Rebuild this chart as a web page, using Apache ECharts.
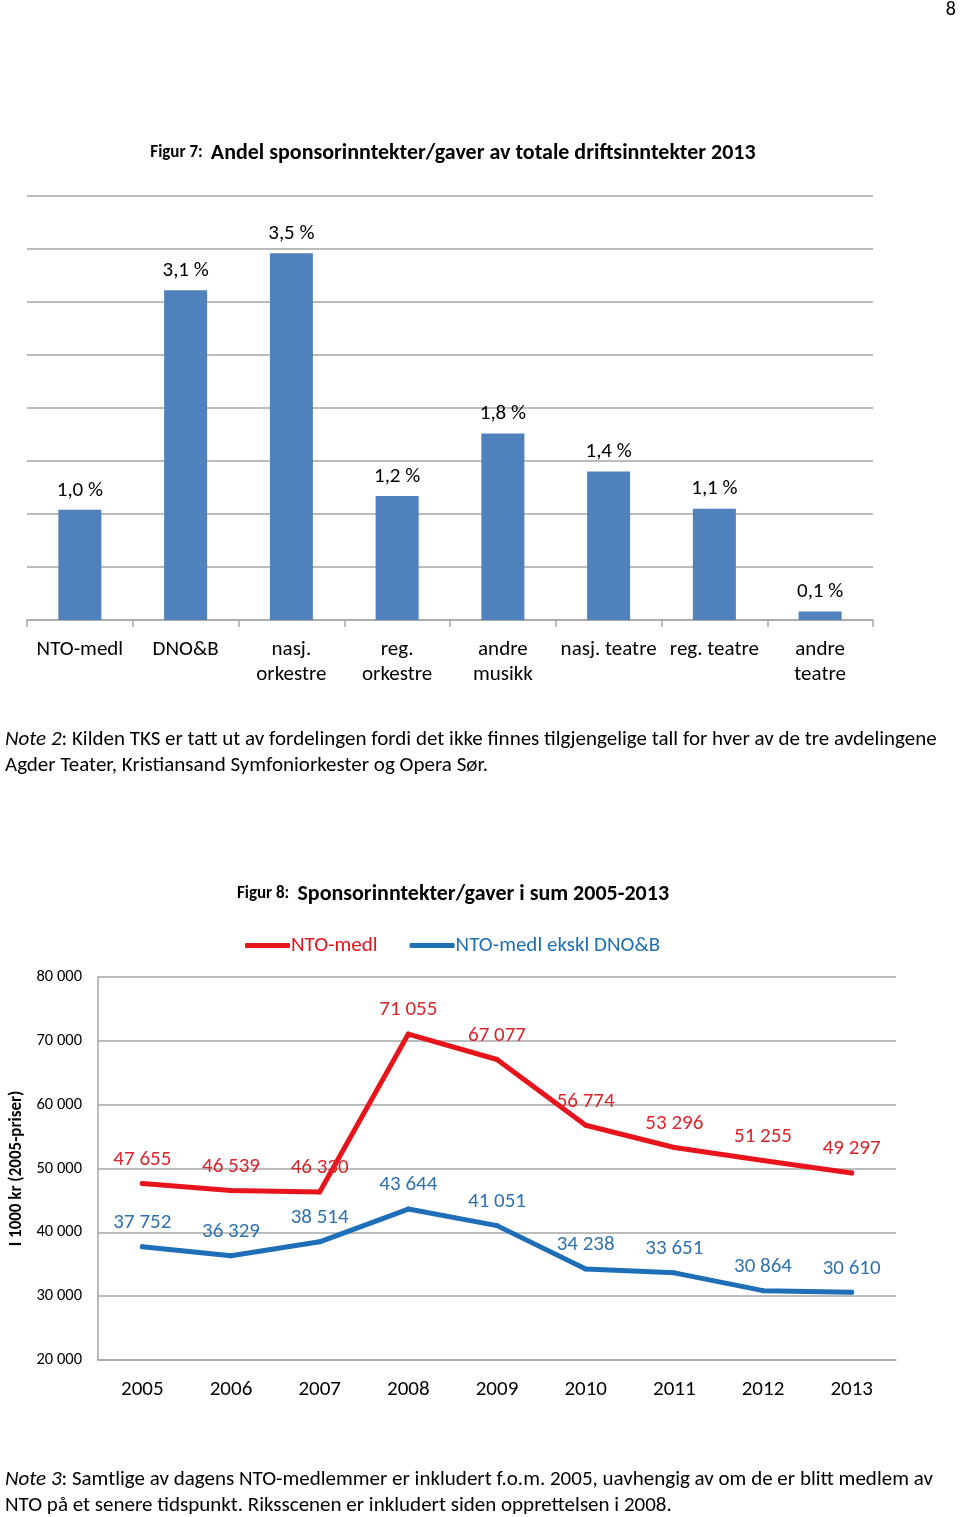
<!DOCTYPE html>
<html>
<head>
<meta charset="utf-8">
<script src="https://cdn.jsdelivr.net/npm/echarts@6/dist/echarts.min.js"></script>
<style>
html,body{margin:0;padding:0;background:#fff;}
#c{width:960px;height:1517px;}
</style>
</head>
<body>
<div id="c"></div>
<script>
// Figure 7 data
const barCategories = ['NTO-medl', 'DNO&B', 'nasj.\norkestre', 'reg.\norkestre', 'andre\nmusikk', 'nasj. teatre', 'reg. teatre', 'andre\nteatre'];
const barValues = [1.04, 3.11, 3.46, 1.17, 1.76, 1.40, 1.05, 0.08];

// Figure 8 data
const years = ['2005', '2006', '2007', '2008', '2009', '2010', '2011', '2012', '2013'];
const ntoMedl = [47655, 46539, 46330, 71055, 67077, 56774, 53296, 51255, 49297];
const ntoEkskl = [37752, 36329, 38514, 43644, 41051, 34238, 33651, 30864, 30610];

const FONT = "'Liberation Sans Narrow', Carlito, Lato, sans-serif";
const fmtThousands = v => String(Math.round(v)).replace(/\B(?=(\d{3})+(?!\d))/g, ' ');

const chart = echarts.init(document.getElementById('c'), null, {renderer: 'canvas'});
chart.setOption({
  animation: false,
  textStyle: {fontFamily: FONT},
  title: [
    {
      text: '{s|Figur 7:}  {b|Andel sponsorinntekter/gaver av totale driftsinntekter 2013}',
      left: 448, top: 137, textAlign: 'center',
      textStyle: {rich: {
        s: {fontFamily: FONT, fontSize: 17, fontWeight: 'bold', color: '#000'},
        b: {fontFamily: FONT, fontSize: 22, fontWeight: 'bold', color: '#000'}
      }}
    },
    {
      text: '{s|Figur 8:}  {b|Sponsorinntekter/gaver i sum 2005-2013}',
      left: 448, top: 878, textAlign: 'center',
      textStyle: {rich: {
        s: {fontFamily: FONT, fontSize: 17, fontWeight: 'bold', color: '#000'},
        b: {fontFamily: FONT, fontSize: 22, fontWeight: 'bold', color: '#000'}
      }}
    }
  ],
  legend: {
    top: 930, left: 240,
    orient: 'horizontal',
    itemWidth: 45, itemHeight: 5, itemGap: 32,
    icon: 'roundRect',
    textStyle: {fontFamily: FONT, fontSize: 21, padding: [0,0,0,-4]},
    data: [
      {name: 'NTO-medl', textStyle: {color: '#e8141b'}},
      {name: 'NTO-medl ekskl DNO&B', textStyle: {color: '#1f6fb8'}}
    ]
  },
  grid: [
    {left: 27, right: 87, top: 196, bottom: 897, containLabel: false, outerBoundsMode: 'none'},
    {left: 98, right: 64, top: 977, bottom: 157, containLabel: false, outerBoundsMode: 'none'}
  ],
  xAxis: [
    {
      gridIndex: 0, type: 'category', data: barCategories,
      axisLine: {lineStyle: {color: '#a6a6a6', width: 1.5}},
      axisTick: {show: true, alignWithLabel: false, length: 7, lineStyle: {color: '#a6a6a6', width: 1.5}},
      axisLabel: {interval: 0, color: '#000', fontSize: 21, lineHeight: 25, margin: 17, fontFamily: FONT}
    },
    {
      gridIndex: 1, type: 'category', data: years,
      axisLine: {lineStyle: {color: '#a6a6a6', width: 1.5}},
      axisTick: {show: false},
      axisLabel: {interval: 0, color: '#000', fontSize: 21, margin: 19, fontFamily: FONT}
    }
  ],
  yAxis: [
    {
      gridIndex: 0, type: 'value', min: 0, max: 4, interval: 0.5,
      axisLabel: {show: false}, axisLine: {show: false}, axisTick: {show: false},
      splitLine: {lineStyle: {color: '#a6a6a6', width: 1.5}}
    },
    {
      gridIndex: 1, type: 'value', min: 20000, max: 80000, interval: 10000,
      name: 'I 1000 kr (2005-priser)', nameLocation: 'middle', nameRotate: 90, nameGap: 70,
      nameTextStyle: {fontFamily: FONT, fontSize: 17, fontWeight: 'bold', color: '#000'},
      axisLine: {show: true, lineStyle: {color: '#a6a6a6', width: 1.5}},
      axisTick: {show: false},
      axisLabel: {color: '#000', fontSize: 16.5, margin: 16, fontFamily: FONT, formatter: fmtThousands},
      splitLine: {lineStyle: {color: '#a6a6a6', width: 1.5}}
    }
  ],
  series: [
    {
      type: 'bar', xAxisIndex: 0, yAxisIndex: 0, data: barValues,
      barWidth: 43,
      itemStyle: {color: '#4f81bd'},
      label: {show: true, position: 'top', distance: 9, color: '#000', fontSize: 21, fontFamily: FONT,
        formatter: p => p.value.toFixed(1).replace('.', ',') + ' %'}
    },
    {
      name: 'NTO-medl', type: 'line', xAxisIndex: 1, yAxisIndex: 1, data: ntoMedl,
      symbol: 'circle', symbolSize: 5, color: '#e8141b',
      lineStyle: {width: 5, color: '#e8141b', cap: 'round', join: 'round'},
      itemStyle: {color: '#e8141b'},
      label: {show: true, position: 'top', distance: 11, color: '#d9252a', fontSize: 21, fontFamily: FONT,
        formatter: p => fmtThousands(p.value)}
    },
    {
      name: 'NTO-medl ekskl DNO&B', type: 'line', xAxisIndex: 1, yAxisIndex: 1, data: ntoEkskl,
      symbol: 'circle', symbolSize: 5, color: '#1f6fb8',
      lineStyle: {width: 5, color: '#1f6fb8', cap: 'round', join: 'round'},
      itemStyle: {color: '#1f6fb8'},
      label: {show: true, position: 'top', distance: 11, color: '#2e72b0', fontSize: 21, fontFamily: FONT,
        formatter: p => fmtThousands(p.value)}
    }
  ],
  graphic: [
    {type: 'text', right: 4, top: 0, style: {text: '8', font: '20px ' + FONT, fill: '#000'}},
    {type: 'text', left: 5, top: 727, style: {
      text: '{i|Note 2}: Kilden TKS er tatt ut av fordelingen fordi det ikke finnes tilgjengelige tall for hver av de tre avdelingene\nAgder Teater, Kristiansand Symfoniorkester og Opera Sør.',
      font: '21px ' + FONT, fill: '#000', lineHeight: 26,
      rich: {i: {fontStyle: 'italic', fontSize: 21, fontFamily: FONT, fill: '#000'}}
    }},
    {type: 'text', left: 5, top: 1467, style: {
      text: '{i|Note 3}: Samtlige av dagens NTO-medlemmer er inkludert f.o.m. 2005, uavhengig av om de er blitt medlem av\nNTO på et senere tidspunkt. Riksscenen er inkludert siden opprettelsen i 2008.',
      font: '21px ' + FONT, fill: '#000', lineHeight: 26,
      rich: {i: {fontStyle: 'italic', fontSize: 21, fontFamily: FONT, fill: '#000'}}
    }}
  ]
});
</script>
</body>
</html>
